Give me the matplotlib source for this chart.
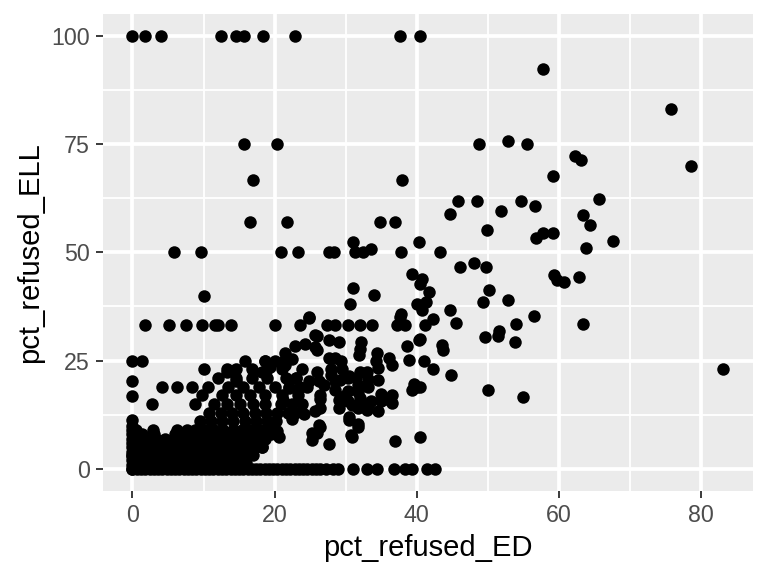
import matplotlib
matplotlib.use("Agg")
import matplotlib.pyplot as plt
from matplotlib.ticker import FixedLocator

plt.rcParams['font.family'] = ['Liberation Sans', 'DejaVu Sans']

# schools where ELL refusal is 0 (band along the bottom)
ed_on_ell0 = [0, 0.6, 1.2, 1.8, 2.4, 3.0, 3.6, 4.2, 4.8, 5.4, 6.0, 6.6, 7.2, 7.8,
              8.4, 9.0, 9.6, 10.2, 10.8, 11.4, 12.0, 12.6, 13.2, 13.8, 14.4, 15.0,
              15.6, 16.2, 16.8, 17.4, 18.0, 18.6, 19.2, 19.8, 20.4, 21.0, 21.6,
              22.2, 22.8, 23.4, 24.0, 24.6, 25.2, 25.8, 26.4, 27.3, 28.2, 28.9,
              31.1, 33.0, 34.4, 36.8, 38.4, 39.4, 41.5, 42.6]

# schools where ED refusal is 0 (left column)
ell_on_ed0 = [0, 1, 2, 3, 4, 5, 6, 7, 8, 9, 10, 11.3, 16.9, 20.2, 25]

# schools at 100 % ELL refusal
ed_on_ell100 = [0, 1.8, 4.0, 12.5, 14.6, 15.7, 18.3, 22.9, 37.7, 40.4]

# schools near one third ELL refusal
ed_on_ell33 = [1.7, 5.1, 7.5, 9.8, 11.6, 12.1, 13.8, 20.1, 23.6, 27.4, 28.5,
               30.3, 32.0, 33.7, 37.2, 38.4, 41.2]

# schools at 50 % ELL refusal
ed_on_ell50 = [5.8, 9.7, 20.9, 23.3, 27.7, 28.3, 31.3, 32.4, 37.8, 43.3]

# scattered points, upper part of the cloud
upper_ed = [15.7, 20.3, 17.0, 37.9, 16.6, 21.7, 34.8, 37.0, 31.1, 40.3, 33.6,
            39.3, 40.8, 40.5, 31.0, 34.0, 10.1, 30.6, 40.0, 41.7, 41.3, 40.8,
            37.8, 24.9, 42.3, 1.3]
upper_ell = [75, 75, 66.7, 66.7, 57.1, 57.1, 57.1, 57.1, 52.4, 52.4, 50.8,
             45.0, 43.9, 42.6, 41.7, 40.2, 40.0, 38.1, 38.1, 40.8, 38.5, 36.6,
             35.8, 35.0, 34.6, 25]

# points with ED refusal above ~43 %
right_ed = [57.8, 75.8, 48.8, 52.9, 55.5, 62.3, 63.1, 78.6, 59.1, 65.6, 45.8,
            48.5, 54.6, 56.6, 44.7, 51.8, 63.4, 64.4, 49.9, 56.8, 57.8, 59.1,
            67.6, 63.8, 46.1, 48.0, 49.7, 59.3, 59.7, 60.7, 62.8, 50.1, 49.3,
            52.8, 44.7, 56.5, 45.5, 54.0, 63.4, 51.6, 51.5, 49.6, 53.8, 40.5,
            43.5, 43.7, 41.0, 42.3, 44.8, 83.1, 40.5, 50.0, 55.0, 40.4]
right_ell = [92.2, 83.0, 75.0, 75.7, 75.0, 72.3, 71.3, 70.0, 67.6, 62.4, 61.9,
             61.9, 61.9, 60.7, 58.8, 59.6, 58.6, 56.4, 55.2, 53.4, 54.5, 54.5,
             52.5, 51.1, 46.7, 47.5, 46.7, 44.8, 43.7, 43.1, 44.4, 41.2, 38.6,
             39.1, 36.8, 35.4, 33.8, 33.4, 33.4, 31.8, 30.8, 30.4, 29.3, 30.0,
             28.7, 27.4, 24.9, 23.1, 21.8, 23.1, 18.9, 18.3, 16.7, 7.5]

# middle of the cloud (ED 20-41 %)
mid_ed = [26.0, 27.6, 29.0, 26.0, 32.1, 32.0, 31.9, 27.6, 28.5, 34.4, 34.2,
          36.1, 36.5, 38.6, 40.3, 38.9, 26.0, 26.2, 27.9, 28.5, 30.3, 31.5,
          33.0, 28.5, 30.3, 33.2, 31.8, 39.4, 40.1, 26.4, 29.7, 25.7, 21.5,
          22.9, 24.3, 25.7, 29.3, 29.5, 29.2, 30.5, 32.0, 34.6, 34.6, 29.0,
          30.3, 32.0, 33.5, 34.9, 36.5, 35.7, 31.8, 33.2, 39.6, 26.4, 30.4,
          31.8, 30.9, 26.2, 25.3, 27.6, 20.3, 26.4, 26.4, 29.0, 30.0, 30.9,
          31.8, 33.0, 33.2, 34.6, 34.9, 36.5, 30.4, 31.8, 30.7, 36.9, 20.6,
          18.2, 25.3, 26.0, 22.5, 24.1, 25.7, 15.9, 18.6, 13.3, 14.5, 18.2,
          19.4, 21.5, 22.5, 23.9, 24.8, 22.0, 24.9, 37.7, 23.0, 24.5, 27.0,
          28.0, 21.2, 23.8]
mid_ell = [30.8, 29.8, 29.4, 27.5, 29.4, 27.8, 26.3, 25.6, 25.6, 26.8, 24.9,
           25.6, 24.1, 28.3, 29.8, 25.2, 22.5, 20.2, 21.6, 20.2, 21.0, 21.0,
           22.5, 18.2, 18.0, 19.0, 17.7, 18.2, 19.0, 17.1, 16.9, 30.9, 26.7,
           28.5, 28.9, 28.1, 25.0, 23.1, 20.5, 21.5, 22.5, 23.3, 20.5, 16.0,
           15.6, 16.3, 15.8, 17.4, 17.0, 16.2, 19.3, 20.8, 19.6, 16.2, 11.3,
           9.8, 7.3, 10.2, 8.4, 5.8, 8.7, 14.0, 9.8, 14.0, 15.9, 14.8,
           14.0, 13.6, 14.8, 13.3, 15.6, 15.2, 12.0, 10.3, 7.9, 6.5, 7.5,
           5.2, 6.8, 8.4, 11.5, 12.6, 13.5, 25.0, 25.0, 22.5, 20.2, 22.5,
           23.6, 23.9, 25.4, 23.0, 20.2, 18.7, 34.9, 35.0, 21.0, 19.0, 19.5,
           23.0, 16.0, 15.0]

low_ell_rows = [1.3, 2.3, 3.2, 4.2, 5.2, 6.1, 7.0, 8.0, 9.0, 11.0, 13.0, 15.0,
                17.0, 19.0, 21.0, 23.0, 25.0]
low_ed_rows = [
    [0.5, 1.8, 3.1, 4.4, 5.7, 7.0, 8.3, 9.6, 10.9, 12.2, 13.5, 14.8, 16.0],
    [1.1, 2.4, 3.7, 5.0, 6.3, 7.6, 8.9, 10.2, 11.5, 12.8, 14.1, 15.4],
    [0, 1.3, 2.6, 3.9, 5.2, 6.5, 7.8, 9.1, 10.4, 11.7, 13.0, 14.3, 15.6, 17.0],
    [0.8, 2.1, 3.4, 4.7, 6.0, 7.3, 8.6, 9.9, 11.2, 12.5, 13.8, 15.1, 16.5],
    [0.4, 1.7, 3.0, 4.3, 5.6, 6.9, 8.2, 9.5, 10.8, 12.1, 13.4, 14.7, 16.0, 17.3, 18.2],
    [1.0, 2.6, 3.9, 5.0, 6.2, 7.6, 8.9, 10.2, 11.6, 12.9, 14.2, 15.5, 16.8],
    [0.6, 2.0, 3.3, 4.6, 5.8, 7.0, 8.3, 9.6, 10.9, 12.2, 13.5, 14.8, 16.1, 17.4, 18.7],
    [1.4, 3.0, 6.0, 7.5, 9.0, 10.3, 11.6, 12.9, 14.2, 15.5, 16.8, 19.5],
    [0.5, 2.9, 6.3, 7.7, 8.8, 10.2, 11.5, 12.8, 14.1, 15.4, 16.7, 18.0, 19.3],
    [9.5, 11.0, 12.6, 14.2, 15.8, 17.4, 18.9, 20.2],
    [10.8, 12.4, 14.0, 15.6, 17.2, 18.8, 20.4, 21.9, 22.9],
    [2.7, 8.8, 11.5, 13.3, 15.1, 16.9, 18.7, 20.9, 22.5],
    [9.8, 12.6, 14.6, 16.6, 18.6, 21.0, 23.3],
    [4.1, 6.3, 8.4, 10.6, 13.5, 15.6, 17.8, 20.0, 22.0, 23.6],
    [12.0, 14.6, 16.8, 19.0, 21.6, 23.0],
    [10.1, 13.3, 14.6, 16.8, 19.0, 21.0],
    [18.6, 20.0, 21.3],
]

pct_refused_ED = (ed_on_ell0 + [0] * len(ell_on_ed0) + ed_on_ell100 + ed_on_ell33
                  + ed_on_ell50 + upper_ed + right_ed + mid_ed)
pct_refused_ELL = ([0] * len(ed_on_ell0) + ell_on_ed0 + [100] * len(ed_on_ell100)
                   + [33.3] * len(ed_on_ell33) + [50] * len(ed_on_ell50)
                   + upper_ell + right_ell + mid_ell)
for yv, xs in zip(low_ell_rows, low_ed_rows):
    pct_refused_ED += xs
    pct_refused_ELL += [yv] * len(xs)

fig = plt.figure(figsize=(5.12, 3.84), dpi=150)
ax = fig.add_axes([0.134, 0.148, 0.846, 0.828])
ax.set_facecolor('#EBEBEB')

ax.scatter(pct_refused_ED, pct_refused_ELL, s=36, c='black', linewidths=0, zorder=3)

xmin, xmax = min(pct_refused_ED), max(pct_refused_ED)
pad = 0.05 * (xmax - xmin)
ax.set_xlim(xmin - pad, xmax + pad)
ax.set_ylim(-5, 105)

ax.xaxis.set_major_locator(FixedLocator([0, 20, 40, 60, 80]))
ax.xaxis.set_minor_locator(FixedLocator([10, 30, 50, 70]))
ax.yaxis.set_major_locator(FixedLocator([0, 25, 50, 75, 100]))
ax.yaxis.set_minor_locator(FixedLocator([12.5, 37.5, 62.5, 87.5]))

ax.grid(which='major', color='white', linewidth=1.8, zorder=0)
ax.grid(which='minor', color='white', linewidth=0.9, zorder=0)
ax.set_axisbelow(True)
for sp in ax.spines.values():
    sp.set_visible(False)

ax.tick_params(which='major', length=3.5, width=0.9, color='#333333',
               labelsize=11.2, labelcolor='#4D4D4D', pad=2.8)
ax.tick_params(which='minor', length=0)

ax.set_xlabel('pct_refused_ED', fontsize=14, color='black', labelpad=3.5)
ax.set_ylabel('pct_refused_ELL', fontsize=14, color='black', labelpad=3.5)

fig.savefig('out.png', dpi=150, facecolor='white')
